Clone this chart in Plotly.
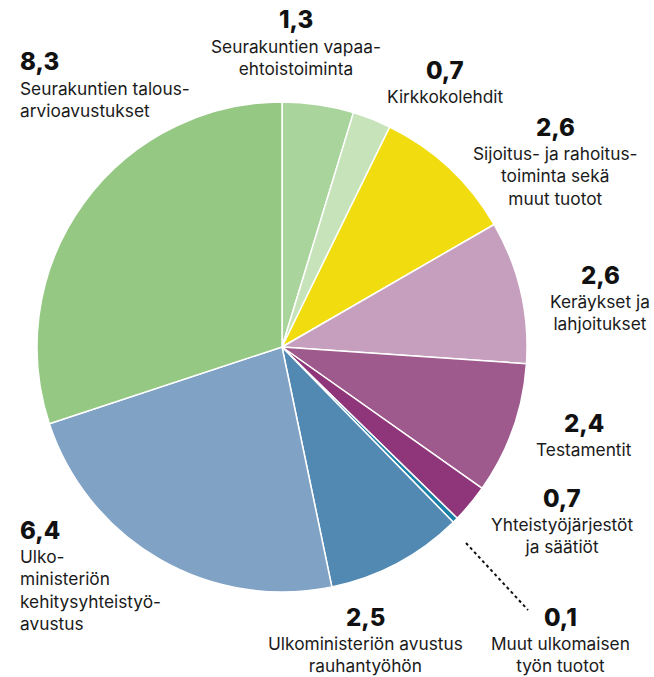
import plotly.graph_objects as go

# ---- data ----
categories = [
    "Seurakuntien vapaaehtoistoiminta",
    "Kirkkokolehdit",
    "Sijoitus- ja rahoitustoiminta sekä muut tuotot",
    "Keräykset ja lahjoitukset",
    "Testamentit",
    "Yhteistyöjärjestöt ja säätiöt",
    "Muut ulkomaisen työn tuotot",
    "Ulkoministeriön avustus rauhantyöhön",
    "Ulkoministeriön kehitysyhteistyöavustus",
    "Seurakuntien talousarvioavustukset",
]
values = [1.3, 0.7, 2.6, 2.6, 2.4, 0.7, 0.1, 2.5, 6.4, 8.3]
value_labels = ["1,3", "0,7", "2,6", "2,6", "2,4", "0,7", "0,1", "2,5", "6,4", "8,3"]
label_texts = [
    "Seurakuntien vapaa-<br>ehtoistoiminta",
    "Kirkkokolehdit",
    "Sijoitus- ja rahoitus-<br>toiminta sekä<br>muut tuotot",
    "Keräykset ja<br>lahjoitukset",
    "Testamentit",
    "Yhteistyöjärjestöt<br>ja säätiöt",
    "Muut ulkomaisen<br>työn tuotot",
    "Ulkoministeriön avustus<br>rauhantyöhön",
    "Ulko-<br>ministeriön<br>kehitysyhteistyö-<br>avustus",
    "Seurakuntien talous-<br>arvioavustukset",
]

# ---- styles / layout ----
colors = ["#a9d49b", "#c7e3ba", "#f1dc0f", "#c59fbd", "#9e5a8c",
          "#8e3679", "#1b7fa6", "#5189b3", "#7fa2c5", "#95c883"]

W, H = 654, 677
# label anchor positions in pixels: (x, y of number centre, anchor)
label_pos = [
    (296, 20, "center"),
    (445, 70, "center"),
    (555, 127, "center"),
    (600, 275, "center"),
    (584, 423, "center"),
    (562, 498, "center"),
    (560, 617, "center"),
    (365, 617, "center"),
    (18, 530, "left"),
    (18, 62, "left"),
]

fig = go.Figure(go.Pie(
    values=values,
    labels=categories,
    sort=False,
    direction="clockwise",
    rotation=0,
    textinfo="none",
    hoverinfo="label+value",
    marker=dict(colors=colors, line=dict(color="white", width=1.5)),
    domain=dict(x=[37 / W, 527 / W], y=[1 - 592 / H, 1 - 102 / H]),
    showlegend=False,
))

FONT = "Inter, Roboto, sans-serif"
annotations = []
for (px, py, anchor), num, txt in zip(label_pos, value_labels, label_texts):
    annotations.append(dict(
        x=px / W, y=1 - py / H, xref="paper", yref="paper",
        text=num, showarrow=False,
        xanchor=anchor, yanchor="middle",
        font=dict(family=FONT, size=24, color="#111111", weight=800),
    ))
    annotations.append(dict(
        x=px / W, y=1 - (py + 14) / H, xref="paper", yref="paper",
        text=txt, showarrow=False, align=anchor,
        xanchor=anchor, yanchor="top",
        font=dict(family=FONT, size=17.3, color="#1a1a1a"),
    ))

fig.update_layout(
    width=W, height=H,
    margin=dict(l=0, r=0, t=0, b=0),
    paper_bgcolor="white",
    plot_bgcolor="white",
    annotations=annotations,
    shapes=[dict(
        type="line", xref="paper", yref="paper",
        x0=466 / W, y0=1 - 543 / H, x1=528 / W, y1=1 - 610 / H,
        line=dict(color="#111111", width=2, dash="dot"),
    )],
)

fig.write_html(
    "out.html",
    config={"displayModeBar": False},
    post_script="document.body.style.margin='0';document.body.style.padding='0';",
)
